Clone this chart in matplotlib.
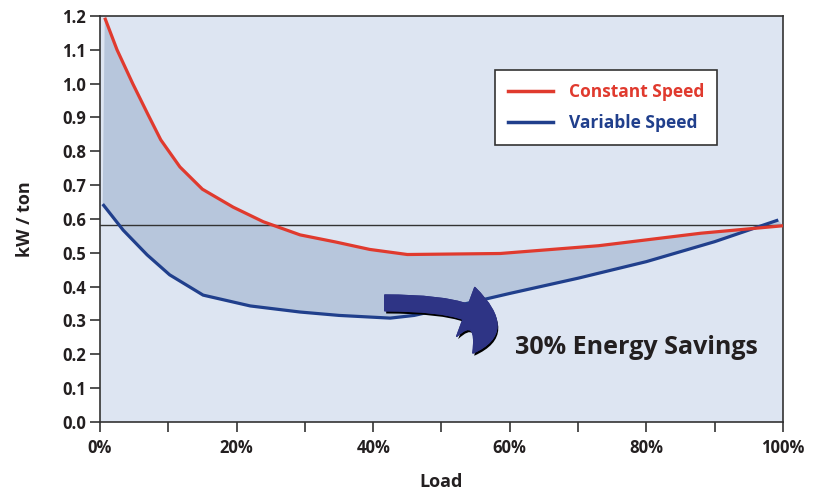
import matplotlib
matplotlib.use("Agg")
import matplotlib.pyplot as plt
import matplotlib.ticker as ticker
import matplotlib.patheffects as pe
from matplotlib.patches import FancyArrowPatch
from matplotlib.lines import Line2D
import numpy as np

plt.rcParams.update({
    "font.family": ["Open Sans", "DejaVu Sans"], "font.weight": "bold",
    "axes.linewidth": 1.2, "xtick.direction": "out", "ytick.direction": "out",
})

# data (load in %, kW/ton)
const_load = [0.7, 2.5, 4.8, 7.0, 8.9, 11.7, 15.0, 19.5, 23.9, 29.3, 34.5, 39.5, 45.0, 58.6, 73.0, 88.0, 100.0]
const_kw = [1.195, 1.10, 1.00, 0.91, 0.834, 0.754, 0.688, 0.635, 0.592, 0.553, 0.532, 0.510, 0.495, 0.498, 0.521, 0.558, 0.580]
var_load = [0.4, 3.4, 6.9, 10.2, 15.1, 22.0, 29.3, 35.0, 42.5, 46.0, 50.0, 60.0, 70.0, 80.0, 90.0, 99.3]
var_kw = [0.644, 0.567, 0.494, 0.435, 0.375, 0.343, 0.325, 0.315, 0.307, 0.315, 0.333, 0.380, 0.425, 0.474, 0.533, 0.597]
ref_line = 0.583

RED = "#e03a2e"
BLUE = "#203f8c"
BG = "#dde5f2"
FILL = "#b7c6dc"

fig = plt.figure(figsize=(8.16, 4.92), dpi=100)
ax = fig.add_axes([0.1225, 0.1423, 0.8371, 0.8252])
ax.set_facecolor(BG)

px = np.concatenate([const_load, var_load[::-1]])
py = np.concatenate([const_kw, var_kw[::-1]])
ax.fill(px, py, color=FILL, lw=0, zorder=1)
ax.axhline(ref_line, color="#333333", lw=1.0, zorder=2)
ax.plot(const_load, const_kw, color=RED, lw=2.3, zorder=4, solid_capstyle="butt")
ax.plot(var_load, var_kw, color=BLUE, lw=2.3, zorder=3, solid_capstyle="butt")

ax.set_xlim(0, 100)
ax.set_ylim(0, 1.2)
ax.xaxis.set_major_locator(ticker.MultipleLocator(10))
ax.yaxis.set_major_locator(ticker.MultipleLocator(0.1))
ax.xaxis.set_major_formatter(ticker.FuncFormatter(lambda v, p: f"{v:.0f}%" if round(v) % 20 == 0 else ""))
ax.yaxis.set_major_formatter(ticker.FormatStrFormatter("%.1f"))
ax.tick_params(length=7, width=1.2, color="#333333", labelsize=12, labelcolor="#231f20", pad=3)
ax.tick_params(axis="x", pad=5)
for s in ax.spines.values():
    s.set_color("#333333")
for lab in ax.get_xticklabels() + ax.get_yticklabels():
    lab.set_fontweight("bold")

ax.set_xlabel("Load", fontsize=13, fontweight="bold", color="#231f20", labelpad=12)
ax.set_ylabel("kW / ton", fontsize=13, fontweight="bold", color="#231f20", labelpad=20)

handles = [Line2D([0], [0], color=RED, lw=2.5), Line2D([0], [0], color=BLUE, lw=2.5)]
leg = ax.legend(handles, ["Constant Speed", "Variable Speed"], loc="upper left",
                bbox_to_anchor=(0.578, 0.866), fancybox=False, framealpha=1,
                edgecolor="#333333", fontsize=12.5, handlelength=2.6, handletextpad=0.9,
                borderpad=0.75, labelspacing=0.75, borderaxespad=0)
leg.get_frame().set_linewidth(1.2)
for t, c in zip(leg.get_texts(), [RED, BLUE]):
    t.set_color(c)
    t.set_fontweight("bold")

# curved "savings" arrow: leaves horizontally, curls down-left into the label
arrow = FancyArrowPatch((41.7, 0.352), (54.6, 0.204), connectionstyle="angle3,angleA=0,angleB=48",
                        arrowstyle="simple,tail_width=0.75,head_width=2.5,head_length=2.0",
                        mutation_scale=15, color="#2e3485", zorder=6, shrinkA=0, shrinkB=0,
                        path_effects=[pe.withSimplePatchShadow(offset=(1, -2), shadow_rgbFace="black", alpha=1),
                                      pe.Normal()])
ax.add_patch(arrow)
ax.text(60.8, 0.219, "30% Energy Savings", fontsize=18, fontweight="bold", color="#231f20",
        ha="left", va="center", zorder=7)

fig.savefig("out.png", dpi=100)
